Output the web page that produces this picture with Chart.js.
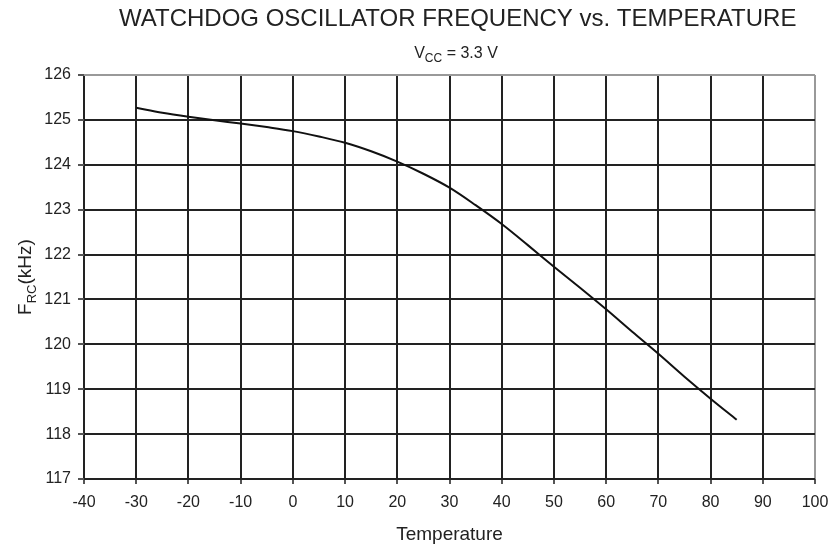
<!DOCTYPE html>
<html><head><meta charset="utf-8">
<script src="https://cdn.jsdelivr.net/npm/chart.js@4.4.0/dist/chart.umd.min.js"></script>
<style>html,body{margin:0;padding:0;background:#fff}#wrap{width:833px;height:548px;position:relative}</style>
</head><body><div id="wrap"><canvas id="c" width="833" height="548"></canvas></div>
<script>
const temperatures = [-30,-25,-20,-15,-10,-5,0,5,10,15,20,25,30,35,40,45,50,55,60,65,70,75,80,85];
const frequencyKHz = [125.27,125.16,125.07,124.99,124.92,124.84,124.75,124.63,124.49,124.30,124.07,123.80,123.49,123.10,122.68,122.21,121.73,121.26,120.78,120.28,119.79,119.28,118.79,118.32];
const xTicks = [-40,-30,-20,-10,0,10,20,30,40,50,60,70,80,90,100];
const yTicks = [117,118,119,120,121,122,123,124,125,126];
const titleText = 'WATCHDOG OSCILLATOR FREQUENCY vs. TEMPERATURE';
const xTitle = 'Temperature';

const FONT = '"Liberation Sans", Arial, sans-serif';
const TEXT = '#222';

const titles = {
  id: 'titles',
  afterDraw(chart) {
    const ctx = chart.ctx, a = chart.chartArea;
    const cx = (a.left + a.right) / 2;
    ctx.save();
    ctx.fillStyle = TEXT;
    ctx.textBaseline = 'alphabetic';
    // main title
    ctx.font = '24px ' + FONT;
    ctx.textAlign = 'left';
    ctx.fillText(titleText, 119, 26);
    // subtitle V_CC = 3.3 V
    const parts = [['V', 16, 0], ['CC', 12, 4], [' = 3.3 V', 16, 0]];
    let w = 0;
    parts.forEach(p => { ctx.font = p[1] + 'px ' + FONT; w += ctx.measureText(p[0]).width; });
    let x = 456 - w / 2;
    parts.forEach(p => { ctx.font = p[1] + 'px ' + FONT; ctx.fillText(p[0], x, 58 + p[2]); x += ctx.measureText(p[0]).width; });
    // x title
    ctx.font = '19px ' + FONT;
    ctx.textAlign = 'center';
    ctx.fillText(xTitle, cx, 540);
    // y title F_RC(kHz)
    const yparts = [['F', 19, 0], ['RC', 13, 5], ['(kHz)', 19, 0]];
    let yw = 0;
    yparts.forEach(p => { ctx.font = p[1] + 'px ' + FONT; yw += ctx.measureText(p[0]).width; });
    ctx.translate(31, (a.top + a.bottom) / 2);
    ctx.rotate(-Math.PI / 2);
    let yx = -yw / 2;
    ctx.textAlign = 'left';
    yparts.forEach(p => { ctx.font = p[1] + 'px ' + FONT; ctx.fillText(p[0], yx, p[2]); yx += ctx.measureText(p[0]).width; });
    ctx.restore();
  }
};

new Chart(document.getElementById('c'), {
  type: 'line',
  data: {
    datasets: [{
      data: temperatures.map((t, i) => ({x: t, y: frequencyKHz[i]})),
      borderColor: '#111',
      borderWidth: 2,
      pointRadius: 0,
      tension: 0.4,
      cubicInterpolationMode: 'monotone',
      fill: false
    }]
  },
  options: {
    responsive: false,
    animation: false,
    layout: {padding: {left: 0, right: 18, top: 75, bottom: 0}},
    plugins: {legend: {display: false}, tooltip: {enabled: false}, title: {display: false}},
    scales: {
      x: {
        type: 'linear', min: -40, max: 100,
        afterBuildTicks: s => { s.ticks = xTicks.map(v => ({value: v})); },
        afterFit: s => { s.height = 69; s.paddingLeft = 0; s.paddingRight = 0; },
        ticks: {color: TEXT, font: {family: FONT, size: 16}, padding: 9, maxRotation: 0},
        grid: {
          color: ctx => ctx.index === xTicks.length - 1 ? '#999' : '#222',
          lineWidth: 2, tickLength: 5, tickColor: '#555'
        },
        border: {display: false}
      },
      y: {
        type: 'linear', min: 117, max: 126,
        afterBuildTicks: s => { s.ticks = yTicks.map(v => ({value: v})); },
        afterFit: s => { s.width = 84; s.paddingTop = 0; s.paddingBottom = 0; },
        ticks: {color: TEXT, font: {family: FONT, size: 16}, padding: 7},
        grid: {
          color: ctx => ctx.index === yTicks.length - 1 ? '#999' : '#222',
          lineWidth: 2, tickLength: 6, tickColor: '#555'
        },
        border: {display: false}
      }
    }
  },
  plugins: [titles]
});
</script></body></html>
